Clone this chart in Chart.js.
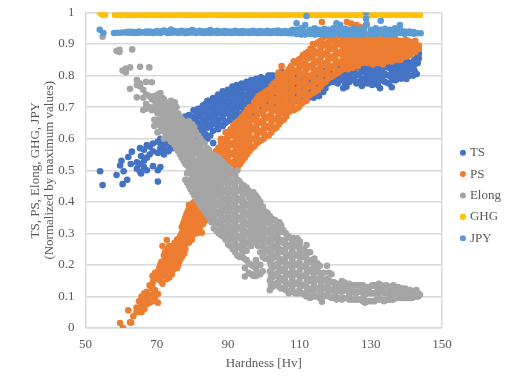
<!DOCTYPE html>
<html>
<head>
<meta charset="utf-8">
<style>
  body { margin: 0; background: #fff; }
</style>
<script src="https://cdn.jsdelivr.net/npm/chart.js@4/dist/chart.umd.min.js"></script>
</head>
<body>
<canvas id="chart" width="512" height="384"></canvas>
<script>
// every row is [hardness, value, value, ...]
const tsRows = [
  [54.1,.497],[54.8,.453],[58.7,.485],[59.7,.515],[60.1,.53],[60.4,.456],[60.7,.497],[61.7,.47],[62,.542],[62.7,.52],[63,.559],
  [64.4,.525,.505],[65.3,.57,.52,.495],[65.6,.49,.545],[66.4,.51,.53,.565],[67.2,.5,.54,.58],[68,.575,.55],[68.9,.513,.56,.585],
  [70.3,.464,.5,.555,.59],[71,.51,.57,.6],[72,.55,.575,.6],[73.3,.56,.585,.61],[74.6,.57,.6,.625],[76,.565,.59,.615,.64],
  [77.2,.56,.585,.61,.64,.665],[77.9,.67,.645],[79,.57,.6,.63,.655,.675],[80.3,.58,.61,.64,.665,.69],[81.6,.59,.62,.65,.675,.695],
  [82.9,.6,.63,.66,.685,.705],[84.2,.6,.635,.665,.695,.72],[85.8,.586,.625,.655,.68,.705,.729],[87.2,.63,.66,.69,.715,.74],
  [88.5,.64,.665,.695,.72,.75],[89.9,.655,.68,.705,.73,.755],[91.2,.66,.69,.715,.74,.765],[92.4,.66,.695,.72,.745,.77],
  [93.8,.67,.7,.725,.75,.775],[95.2,.65,.685,.71,.735,.76,.78],[96.5,.68,.715,.74,.765,.786],[97.9,.69,.72,.745,.77,.79],
  [99.2,.7,.725,.75,.775,.795],[100.6,.7,.73,.76,.785,.79],[102,.71,.74,.765,.79,.8],[103.4,.71,.745,.77,.795],[105,.715,.75,.78,.812,.8],
  [106.5,.72,.755,.785,.805],[108,.71,.73,.76,.79],[109.5,.72,.745,.775,.8],[111,.72,.76,.79],[112.5,.73,.765,.795],[114,.73,.74,.77,.8],
  [115.5,.735,.76,.79,.82],[116.7,.748,.775,.8],[118,.775,.8,.825],[119.4,.78,.81,.83],[120.8,.775,.8,.825],[122.3,.76,.785,.81,.835],
  [123.2,.765,.79,.815],[124.6,.79,.815,.84],[126,.775,.8,.825,.84],[127.5,.767,.79,.815,.84],[129,.775,.8,.825,.84],[130.4,.77,.795,.82,.84],
  [131.5,.775,.8,.825,.84],[132.6,.76,.785,.81,.835],[134,.78,.805,.83,.845],[135.9,.763,.785,.81,.835],[137,.785,.81,.835],
  [138.5,.79,.815,.835],[140,.789,.81,.83,.85],[141.9,.8,.825,.844],[142.9,.805,.855],[143.5,.87,.855],
  [71.5,.56,.585],[72.7,.565,.59,.61],[74,.575,.6,.62],[75.3,.58,.61,.63],[76.6,.58,.6,.63,.65],[78.4,.58,.61,.64,.66],[79.7,.585,.615,.645,.67],
  [81,.6,.63,.66,.685],[82.3,.61,.64,.67,.695],[83.6,.615,.65,.68,.71],[85,.61,.64,.67,.695,.72],[86.5,.645,.675,.705,.73],[87.9,.645,.68,.705,.73],
  [89.2,.65,.68,.715,.74],[90.6,.67,.695,.72,.75],[91.8,.675,.705,.73,.755],[93.1,.68,.71,.735,.76],[94.5,.685,.715,.74,.765],[95.9,.695,.725,.75,.775],
  [97.2,.705,.73,.755,.78],[98.6,.71,.735,.76,.785],[99.9,.715,.745,.77,.79],[101.3,.72,.75,.775,.8],[102.7,.725,.755,.78,.8],[104.2,.73,.765,.79],
  [105.8,.735,.77,.795],[107.3,.74,.775,.8],[108.8,.735,.76,.785],[110.2,.735,.765,.79],[111.8,.745,.775],[113.2,.75,.785],[114.8,.75,.775,.805],
  [116,.77,.795],[117.3,.76,.79,.815],[118.7,.79,.82],[120,.79,.815],[121.5,.79,.815],[122.8,.775,.8,.825],[124,.78,.805,.83],[125.3,.785,.81,.83],
  [126.8,.78,.805,.83],[128.3,.785,.81,.83],[129.7,.785,.81],[131,.785,.81,.83],[132,.77,.795,.82],[133.3,.795,.82,.84],[135,.775,.8,.825],
  [136.4,.795,.82],[137.8,.8,.825],[139.2,.8,.825,.84],[141,.8,.82,.84],[142.3,.815,.835,.85],[143.2,.84,.86],
  [84,.65,.68,.705],[86,.66,.69,.715],[88,.68,.705,.735],[90,.69,.715,.745],[92,.705,.73,.755],[94,.71,.74,.765],[96,.73,.755,.78],[98,.735,.76,.78],
  [100,.74,.765,.785],[102,.755,.78],[104,.76,.785]
];
const psRows = [
  [59.7,.016],[60.5,0],[62,.056],[62.5,.018],[62.8,.017],[63.4,.037],[64.3,.05,.065],[65,.055,.085],[65.7,.05,.07,.1],[66.5,.06,.085,.11],
  [67.2,.075,.095,.115],[68,.08,.105,.135],[68.8,.085,.125,.14,.165],[69.5,.09,.12,.175],[70.3,.08,.108,.155,.18],[71,.15,.175,.2],
  [71.6,.14,.165,.19,.26],[72.3,.165,.19,.215,.24],[72.8,.155,.18,.23,.279],[73.5,.16,.185,.21,.235,.26],[74.2,.17,.2,.225,.25],
  [75,.2,.22,.245,.27],[75.7,.19,.215,.24,.28],[76.3,.21,.24,.26,.285],[77,.225,.25,.27,.3,.32],[77.7,.235,.26,.29,.315,.34],
  [78.3,.27,.29,.31,.34,.36],[79,.27,.3,.325,.35,.375,.39],[79.8,.28,.31,.335,.36,.385],[80.5,.3,.33,.355,.38,.4],[81.3,.3,.33,.36,.385,.41],
  [82.1,.32,.35,.38,.41],[82.6,.302,.36,.39],[83.5,.34,.37,.42,.45],[84.4,.369,.4,.44,.47],[85,.42,.45,.48,.51,.54],[86.5,.44,.47,.5,.53,.56],
  [88,.46,.49,.52,.55,.58,.6],[89.3,.48,.51,.54,.57,.6,.62],[90.7,.49,.52,.55,.58,.61,.63],[92,.5,.53,.56,.59,.62,.65],
  [93.4,.52,.55,.58,.61,.64,.66],[94.7,.54,.57,.6,.63,.66,.68],[96,.56,.59,.62,.65,.68,.7],[97.3,.575,.6,.63,.66,.69,.715],
  [98.6,.59,.62,.65,.68,.71,.735],[100,.6,.63,.66,.69,.72,.745],[101.4,.61,.64,.67,.7,.73,.755],[102.8,.63,.66,.69,.72,.75,.775],
  [104.2,.645,.67,.7,.73,.76,.79,.81],[105,.83],[105.6,.66,.69,.72,.75,.78,.805],[107,.685,.71,.74,.77,.8,.82],[108.4,.69,.72,.75,.78,.81,.845],
  [109.8,.7,.73,.76,.79,.82,.85],[111,.715,.745,.775,.805,.835,.865],[112,.72],[112.4,.735,.765,.795,.825,.855,.875],
  [113.8,.745,.775,.805,.835,.865,.9],[115.2,.755,.785,.815,.845,.875,.905],[116.3,.97],[116.6,.775,.805,.835,.865,.895,.92],
  [118,.79,.82,.85,.88,.905,.93],[119.4,.8,.83,.86,.89,.91,.93],[120.8,.81,.84,.87,.9,.925],[122.2,.82,.85,.88,.905,.93],[123.3,.97],
  [123.6,.82,.85,.88,.905,.93],[124.5,.965],[125,.825,.855,.885,.91,.93],[126,.96],[126.4,.83,.86,.885,.91,.93],[127,.955],
  [127.8,.84,.865,.89,.915,.93],[128.9,.963],[129.2,.84,.865,.89,.915,.93],[130.6,.835,.86,.885,.91,.93],[132,.84,.865,.89,.915,.93],
  [133.4,.835,.86,.885,.91,.93],[134.7,.845,.87,.895,.92,.93],[135.9,.845,.87,.895,.92],[137,.85,.875,.9,.915],[138.4,.85,.875,.9,.91],
  [139.8,.86,.88,.9,.913],[141.2,.865,.885,.905],[142.5,.875,.895,.91],[143.5,.885,.895],
  [66,.09],[67.6,.09,.105],[69,.105,.15],[70.7,.165,.19],[71.3,.18,.21],[72,.18,.205,.23],[73.1,.17,.2,.22,.25],[73.9,.19,.215,.24],[74.6,.185,.21,.235,.26],
  [75.3,.205,.23,.26],[76,.2,.225,.25,.27],[76.7,.22,.25,.27,.295],[77.4,.24,.26,.28,.31,.33],[78,.25,.28,.3,.325,.35],[78.7,.28,.3,.33,.35,.37],
  [79.4,.285,.31,.34,.365,.385],[80.1,.295,.32,.345,.37,.395],[80.9,.315,.34,.37,.39],[81.7,.315,.345,.37,.4],[83,.33,.36,.385,.41,.435],[84,.35,.38,.41,.43,.46],
  [85.8,.43,.46,.49,.52,.55],[87.3,.45,.48,.51,.54,.57],[88.7,.47,.5,.53,.56,.59],[90,.485,.515,.545,.575,.605],[91.4,.495,.525,.555,.585,.615,.64],
  [92.7,.51,.54,.57,.6,.63,.655],[94,.53,.56,.59,.62,.65,.67],[95.3,.55,.58,.61,.64,.67,.69],[96.6,.57,.6,.635,.665,.695],[98,.585,.61,.64,.67,.7,.725],
  [99.3,.595,.625,.655,.685,.715,.74],[100.7,.61,.635,.665,.695,.725,.75],[102.1,.62,.65,.68,.71,.74,.765],[103.5,.635,.665,.695,.725,.755,.78],
  [104.9,.655,.68,.71,.74,.77,.795],[106.3,.67,.7,.73,.76,.79,.81],[107.7,.69,.715,.745,.775,.805,.83],[109.1,.695,.725,.755,.785,.815,.84],
  [110.4,.71,.74,.77,.8,.83,.855],[111.7,.725,.755,.785,.815,.845,.87],[113.1,.74,.77,.8,.83,.86,.885],[114.5,.75,.78,.81,.84,.87,.9],
  [115.9,.765,.795,.825,.855,.885,.91],[117.3,.78,.81,.84,.87,.9,.925],[118.7,.795,.825,.855,.885,.915,.93],[120.1,.805,.835,.865,.895,.92],
  [121.5,.815,.845,.875,.905,.93],[122.9,.835,.865,.895,.92],[124.3,.835,.865,.895,.92],[125.7,.84,.87,.9,.925],[127.1,.85,.875,.9,.925],
  [128.5,.85,.875,.9,.925],[129.9,.85,.875,.9,.925],[131.3,.85,.875,.9,.925],[132.7,.85,.875,.9,.925],[134,.85,.875,.9,.925],[135.3,.855,.88,.905,.925],
  [136.5,.855,.88,.905,.92],[137.7,.86,.885,.905],[139.1,.865,.885,.905],[140.5,.87,.89,.91],[141.9,.875,.895,.905],
  [86,.455,.485,.515,.545],[88,.475,.505,.535,.565,.59],[90,.5,.53,.56,.59,.62],[92,.515,.545,.575,.605,.635],[94,.545,.575,.605,.635,.665],
  [96,.575,.605,.635,.665,.69],[98,.6,.625,.655,.685,.715],[100,.615,.645,.675,.705,.735],[102,.635,.665,.695,.725,.755],[104,.66,.685,.715,.745,.775,.8],
  [106,.685,.715,.745,.775,.8],[108,.705,.73,.76,.79,.82],[110,.715,.745,.775,.805,.835],[112,.74,.77,.8,.83,.86],[114,.76,.79,.82,.85,.88],
  [116,.78,.81,.84,.87,.9],[118,.805,.835,.865,.895],[120,.82,.85,.88,.91],[122,.835,.865,.895,.92],[124,.84,.87,.9],[126,.845,.875,.9],[128,.855,.88,.905],
  [130,.85,.875,.9],[132,.855,.88,.905],[134,.86,.885,.91],[136,.86,.885,.91],[138,.865,.89],[140,.87,.895]
];
const elongRows = [
  [54.8,.923],[58.7,.878],[59.5,.875,.882],[60.4,.816],[61.3,.81,.822],[62.5,.826,.758],[63.1,.883],[64.4,.786,.77,.731],[65.3,.766,.775,.828],
  [66.2,.691,.73,.755],[67,.78,.71,.695,.74],[67.9,.826,.735,.7],[68.6,.779,.725,.69],[69.3,.64,.66,.7,.72,.735],[70.2,.66,.68,.71,.74,.62],
  [71,.64,.66,.69,.72,.745],[72,.6,.63,.655,.68,.7,.725],[73,.62,.645,.665,.69,.71],[74,.59,.61,.63,.66,.68,.72],
  [75,.58,.6,.63,.65,.67,.69,.715],[76,.56,.59,.615,.64,.66,.68],[77,.54,.565,.59,.61,.635,.66],[78,.47,.52,.55,.57,.6,.625,.65],
  [79,.45,.5,.53,.555,.58,.61,.64,.655],[80,.43,.46,.49,.515,.54,.565,.59,.62,.645],[81,.41,.44,.47,.5,.53,.56,.59,.62],
  [82.2,.39,.42,.45,.48,.51,.54,.57,.6],[83.4,.37,.4,.43,.46,.49,.52,.55,.585],[84.6,.35,.38,.41,.44,.47,.5,.53,.565],
  [86,.316,.35,.38,.41,.44,.47,.5,.53,.548],[87.3,.3,.33,.36,.39,.42,.45,.48,.51,.54],[88.6,.29,.32,.35,.38,.41,.44,.47,.5,.525],
  [90,.265,.3,.33,.36,.39,.42,.45,.48,.51],[91.3,.25,.28,.31,.34,.37,.4,.43,.46,.495],[92.6,.23,.26,.29,.32,.35,.38,.41,.44,.47,.5],
  [93.9,.225,.25,.28,.31,.34,.37,.4,.43,.455],[94.7,.163,.19],[95.2,.215,.245,.27,.3,.33,.36,.39,.427,.445],[96.5,.17,.2,.26,.29,.32,.35,.38,.41],
  [97.8,.165,.19,.215,.27,.3,.33,.36,.39,.42],[99,.17,.2,.24,.28,.31,.34,.37,.4],[100.3,.22,.25,.28,.31,.34,.37],[101.7,.12,.15,.18,.21,.24,.27,.3,.33,.355],
  [103.2,.14,.17,.2,.23,.26,.29,.32,.342],[104.4,.13,.16,.19,.22,.25,.28,.31,.335],[105.5,.125,.15,.18,.21,.24,.27,.31],
  [107,.11,.14,.17,.2,.23,.26,.29],[108.2,.115,.145,.175,.205,.235,.265,.285],[109.4,.11,.14,.17,.2,.23,.26,.284],
  [110.8,.11,.135,.165,.195,.225,.25],[112,.1,.13,.16,.19,.22,.263],[113,.095,.12,.15,.18,.21,.24],[114.2,.1,.125,.155,.185,.22],
  [115.7,.095,.12,.15,.197,.175],[116.3,.083],[117.7,.105,.13,.155,.197],[119,.095,.12,.145,.17],[120.4,.09,.115,.14],[121.9,.09,.115,.149,.135],
  [123.2,.095,.12,.14],[124.5,.09,.115,.135],[125.8,.09,.11,.135],[127.2,.09,.115,.135],[128.4,.08,.105,.13],[129.7,.085,.11,.13],
  [131,.085,.11,.135],[132.3,.09,.115,.14],[133.7,.085,.11,.13],[135,.09,.11,.13],[136.3,.09,.11,.135],[137.7,.095,.115,.13],
  [139,.095,.11,.125],[140.3,.095,.11,.12],[141.6,.095,.11],[142.8,.1,.12],[143.8,.105],
  [69.7,.645,.69,.725],[70.6,.645,.695,.725],[71.5,.625,.65,.675,.705,.73],[72.5,.615,.64,.67,.69,.715],[73.5,.6,.63,.655,.675,.7],[74.5,.59,.62,.645,.665,.69,.71],
  [75.5,.57,.595,.62,.64,.66,.68,.7],[76.5,.55,.575,.6,.625,.65,.67],[77.5,.53,.555,.58,.605,.63,.655],[78.5,.46,.49,.515,.54,.565,.59,.615,.64],
  [79.5,.44,.47,.5,.525,.55,.575,.6,.63],[80.5,.42,.45,.48,.505,.53,.555,.58,.61,.635],[81.6,.4,.43,.46,.49,.52,.55,.58,.61],[82.8,.38,.41,.44,.47,.5,.53,.56,.59],
  [84,.36,.39,.42,.45,.48,.51,.54,.57],[85.3,.335,.365,.395,.425,.455,.485,.515,.545],[86.6,.31,.34,.37,.4,.43,.46,.49,.52,.54],
  [88,.295,.325,.355,.385,.415,.445,.475,.505,.53],[89.3,.28,.31,.34,.37,.4,.43,.46,.49,.515],[90.6,.26,.29,.32,.35,.38,.41,.44,.47,.5],
  [92,.24,.27,.3,.33,.36,.39,.42,.45,.485],[93.2,.225,.255,.285,.315,.345,.375,.405,.435,.465],[94.5,.22,.25,.28,.31,.34,.37,.4,.43,.45],
  [95.8,.175,.205,.265,.295,.325,.355,.385,.415,.435],[97.1,.165,.195,.28,.31,.34,.37,.4,.43],[98.4,.17,.2,.26,.295,.325,.355,.385,.41],
  [99.7,.18,.225,.26,.295,.325,.355,.385],[101,.22,.25,.28,.31,.34,.365],[102.4,.13,.16,.19,.22,.25,.28,.31,.345],[103.8,.135,.165,.195,.225,.255,.285,.315,.335],
  [104.9,.125,.155,.185,.215,.245,.275,.305,.325],[106.2,.12,.145,.175,.205,.235,.265,.3],[107.6,.115,.14,.17,.2,.23,.26,.285],[108.8,.11,.14,.17,.2,.23,.26,.28],
  [110.1,.11,.135,.165,.195,.225,.25,.275],[111.4,.105,.135,.165,.195,.225,.245],[112.5,.1,.125,.155,.185,.215,.24],[113.6,.1,.125,.155,.185,.215],
  [115,.1,.125,.155,.18,.205],[116.8,.1,.125,.15,.175],[118.3,.1,.125,.15,.175],[119.7,.095,.12,.145],[121.2,.095,.12,.14],[122.5,.095,.12,.145],
  [123.9,.09,.115,.14],[125.2,.09,.115,.135],[126.5,.09,.115,.135],[127.8,.085,.11,.135],[129,.085,.11,.13],[130.4,.085,.11,.135],[131.7,.09,.115,.135],
  [133,.09,.115,.135],[134.4,.09,.11,.135],[135.7,.09,.11,.13],[137,.095,.115,.13],[138.4,.095,.11,.125],[139.7,.095,.11,.125],[141,.095,.11,.12],[142.2,.1,.115],[143.3,.1,.11],
  [80,.445,.475,.5,.53,.555,.58,.605,.63],[82,.405,.435,.465,.495,.525,.555,.585],[84,.375,.405,.435,.465,.495,.525,.555],[86,.335,.365,.395,.425,.455,.485,.515],
  [88,.31,.34,.37,.4,.43,.46,.49,.52],[90,.28,.315,.345,.375,.405,.435,.465,.495],[92,.255,.285,.315,.345,.375,.405,.435,.465],[94,.235,.265,.295,.325,.355,.385,.415,.445],
  [96,.275,.305,.335,.365,.395,.425],[98,.18,.285,.315,.345,.375,.405],[100,.235,.265,.295,.325,.355],[102,.135,.165,.2,.235,.265,.295,.325],[104,.145,.175,.205,.24,.27,.3,.325],
  [106,.13,.16,.19,.22,.25,.28],[108,.125,.155,.185,.215,.245,.275],[110,.12,.15,.18,.21,.24,.265],[112,.115,.145,.175,.205,.235],[114,.11,.14,.17,.2],[116,.11,.135,.16],
  [118,.11,.14],[120,.105,.13],[124,.105,.125],[128,.095,.12],[132,.1,.125],[136,.1,.12],[140,.1]
];
const ghgRows = [
  [54,1],[54.5,.995],[55,.993],[55.5,.993],[58.3,.992],[59.1,.992],[60,.992],[60.8,.993],[61.7,.992],[62.6,.992],[63.6,.992],[64.5,.993],[65.4,.992],[66.4,.992],
  [67.3,.992],[68.2,.993],[69.2,.993],[70.1,.992],[71,.992],[72,.992],[72.9,.993],[73.8,.992],[74.8,.992],[75.7,.992],[76.6,.993],[77.6,.993],[78.5,.992],[79.4,.992],
  [80.4,.992],[81.3,.993],[82.2,.992],[83.2,.992],[84.1,.992],[85,.993],[86,.993],[86.9,.992],[87.8,.992],[88.8,.992],[89.7,.993],[90.6,.992],[91.6,.992],[92.5,.992],
  [93.4,.993],[94.4,.993],[95.3,.992],[96.2,.992],[97.2,.992],[98.1,.993],[99,.992],[100,.992],[100.9,.992],[101.8,.993],[102.8,.993],[103.7,.992],[104.6,.992],[105.6,.992],
  [106.5,.993],[107.4,.993],[108.4,.994],[109.3,.992],[110.2,.993],[111.2,.993],[112,.997],[113,.992],[113.9,.993],[114.8,.992],[115.8,.992],[116.7,.993],[117.6,.992],
  [118.6,.993],[119.5,.992],[120.4,.992],[121.4,.992],[122.3,.993],[123.2,.992],[124.2,.992],[125.1,.993],[126,.992],[127,.993],[127.9,.992],[128.8,.992],[129.8,.992],
  [130.7,.993],[131.6,.993],[132.6,.996],[133.5,.992],[134.4,.992],[135.4,.992],[136.3,.993],[137.2,.992],[138.2,.992],[139.1,.993],[140,.992],[141,.993],[141.9,.992],[142.8,.992],[143.8,.992]
];
const jpyRows = [
  [54,.945],[55,.935],[58,.935],[59,.936],[60,.936],[61,.937],[62,.936,.939],[63,.936,.939],[64,.938,.935],[65,.936,.94],[66,.937],[67,.936,.94],[68,.936,.94],[69,.938,.935],
  [70,.937,.941],[71,.935,.94],[72,.938,.943],[73,.935,.94],[74,.936,.946],[75,.937,.941],[76,.935,.94],[77,.937,.942],[78,.935,.94],[79,.936,.941],[80,.937,.944],[81,.935,.94],
  [82,.937,.942],[83,.935,.94],[84,.936,.941],[85,.935,.944],[86,.937,.94],[87,.935,.942],[88,.936,.94],[89,.935,.941],[90,.936,.94],[91,.935,.94],[92,.936,.942],[93,.935,.94],
  [94,.935,.941],[95,.936,.94],[96,.935,.94],[97,.936,.942],[98,.935,.94],[99,.935,.941],[100,.936,.94],[101,.935,.942],[102,.935,.94],[103,.936,.941],[104,.935,.943],[105,.935,.94],
  [106,.935,.941],[107,.934,.94],[108,.934,.945],[109.2,.966,.945,.932],[110.5,.938,.95,.93],[111.6,.96,.94,.93],[112,.989],[113,.932,.945],[114.3,.94,.95,.93],[115,.932,.94],
  [115.6,.932,.945],[117,.94,.93,.948],[118.2,.932,.945],[119.5,.94,.95,.93],[120.4,.966,.935,.945],[121.4,.96,.932,.942],[122.8,.94,.93,.948],[124,.932,.945],[125.4,.94,.95,.93],
  [126.8,.932,.945],[128,.94,.93,.948],[128.7,1,.98,.96],[130,.932,.945],[131.4,.94,.95,.93],[132.8,.974,.935,.945],[134,.94,.93,.948],[135.4,.932,.945],[136.8,.94,.95,.93],
  [138.2,.96,.935,.945],[139.5,.94,.932],[140.8,.935,.94],[142,.933,.938],[143,.934],[144,.934]
];
const seriesNames = ['TS', 'PS', 'Elong', 'GHG', 'JPY'];
const seriesColors = ['#4472c4', '#ed7d31', '#a5a5a5', '#ffc000', '#5b9bd5'];
const seriesRows = [tsRows, psRows, elongRows, ghgRows, jpyRows];

const textColor = '#595959';
const gridColor = '#d9d9d9';
const serif = '"Liberation Serif", serif';

function toPoints(rows) {
  return rows.flatMap(row => row.slice(1).map(y => ({ x: row[0], y })));
}

// first dataset is painted last, so JPY goes first and the legend gets reversed
const datasets = seriesNames.map((name, i) => ({
  label: name,
  data: toPoints(seriesRows[i]),
  backgroundColor: seriesColors[i],
  borderColor: seriesColors[i],
  borderWidth: 0,
  pointRadius: 3.3,
  pointStyle: 'circle'
})).reverse();

// the legend sits a bit away from the plot, Chart.js would glue it to the edge
const legendShift = {
  id: 'legendShift',
  afterLayout(chart) {
    const dx = 454 - chart.legend.left;
    chart.legend.left += dx;
    chart.legend.right += dx;
    chart.legend.top += 3.5;
    chart.legend.bottom += 3.5;
  }
};

new Chart(document.getElementById('chart'), {
  type: 'scatter',
  data: { datasets },
  plugins: [legendShift],
  options: {
    responsive: false,
    animation: false,
    layout: { padding: { left: 28, top: 12.5, right: 13, bottom: 12.5 } },
    plugins: {
      tooltip: { enabled: false },
      legend: {
        position: 'right',
        reverse: true,
        labels: {
          usePointStyle: true,
          boxWidth: 1,
          boxHeight: 4.3,
          padding: 8.4,
          color: textColor,
          font: { family: serif, size: 13 }
        }
      }
    },
    scales: {
      x: {
        min: 50,
        max: 150,
        afterFit(scale) {
          scale.height = 43.5;
          scale.paddingLeft = 0;
          scale.paddingRight = 0;
        },
        ticks: { stepSize: 20, padding: 9, color: textColor, font: { family: serif, size: 13 }, maxRotation: 0 },
        grid: {
          drawTicks: false,
          lineWidth: 1.5,
          color: ctx => (ctx.tick && ctx.tick.value === 150 ? gridColor : 'transparent')
        },
        border: { color: gridColor, width: 1.5 },
        title: { display: true, text: 'Hardness [Hv]', color: textColor, padding: { top: 3, bottom: 0 }, font: { family: serif, size: 13 } }
      },
      y: {
        min: 0,
        max: 1,
        afterFit(scale) {
          scale.width = 57.5;
          scale.paddingTop = 0;
          scale.paddingBottom = 0;
        },
        ticks: { stepSize: 0.1, padding: 11, color: textColor, font: { family: serif, size: 13 }, callback: v => String(Number(v.toFixed(1))) },
        grid: { drawTicks: false, lineWidth: 1.5, color: gridColor },
        border: { color: gridColor, width: 1.5 },
        title: {
          display: true,
          text: ['TS, PS, Elong, GHG, JPY', '(Normalized by maximum values)'],
          color: textColor,
          padding: { top: 0, bottom: 2 },
          font: { family: serif, size: 13, lineHeight: 1.1 }
        }
      }
    }
  }
});
</script>
</body>
</html>
